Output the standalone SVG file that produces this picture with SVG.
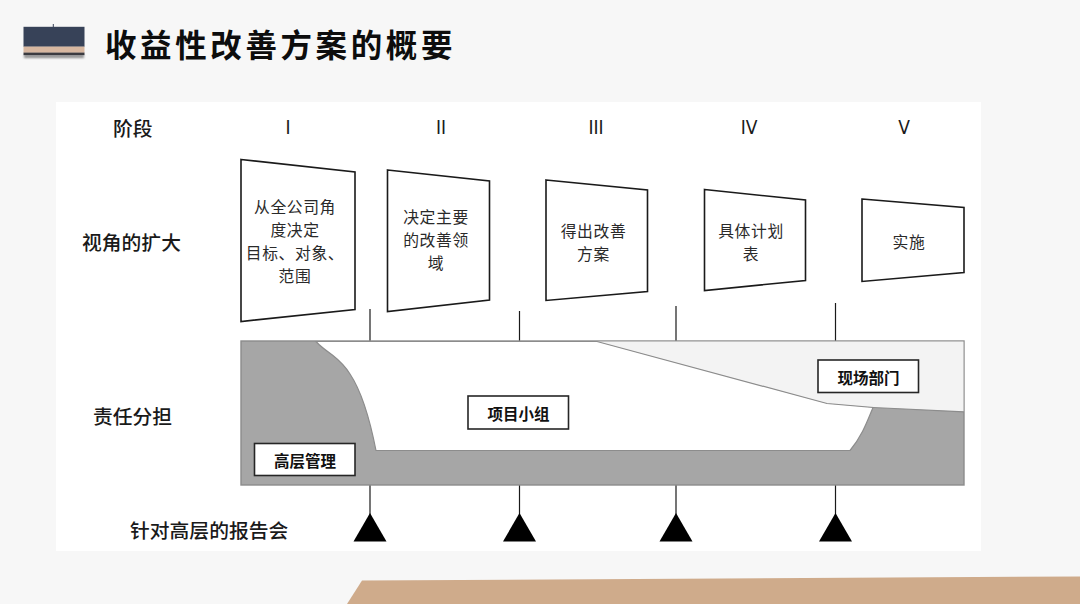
<svg xmlns="http://www.w3.org/2000/svg" width="1080" height="604" viewBox="0 0 1080 604">
<defs>
<style>
.cn{font-family:"Noto Sans CJK SC","Noto Sans",sans-serif;fill:#1a1a1a;}
.lbl{font-size:19.8px;font-weight:500;text-anchor:start;dominant-baseline:central;}
.rom{font-family:"Liberation Sans Narrow","DejaVu Sans Condensed","Liberation Sans",sans-serif;font-size:19px;fill:#1a1a1a;text-anchor:middle;dominant-baseline:central;}
.box{fill:#ffffff;stroke:#1a1a1a;stroke-width:1.6;}
.bt{font-size:15.8px;letter-spacing:0.6px;fill:#2a2a2a;text-anchor:middle;dominant-baseline:central;}
.tag{fill:#ffffff;stroke:#262626;stroke-width:1.6;}
.tt{font-size:15.5px;font-weight:700;fill:#111;text-anchor:middle;dominant-baseline:central;}
.tick{stroke:#1a1a1a;stroke-width:1.2;}
.tri{fill:#000;}
</style>
<filter id="sh" x="-10%" y="-10%" width="120%" height="160%">
<feGaussianBlur stdDeviation="1.2"/>
</filter>
</defs>
<rect x="0" y="0" width="1080" height="604" fill="#f7f7f7"/>
<polygon points="362,580.5 1080,576.5 1080,604 347,604" fill="#cfab8b"/>
<rect x="56" y="102" width="925" height="449" fill="#ffffff"/>

<g id="title">
<rect x="24" y="55" width="60" height="3" fill="#8a8a8a" filter="url(#sh)"/>
<rect x="23.5" y="26.8" width="61" height="20" fill="#374258"/>
<rect x="23.5" y="46.6" width="61" height="6.2" fill="#d7b7a0"/>
<rect x="23.5" y="52.6" width="61" height="2.6" fill="#3b3b40"/>
<line x1="53.3" y1="24" x2="53.3" y2="27" stroke="#374258" stroke-width="1"/>
<text x="105" y="43" class="cn" style="font-size:31.5px;font-weight:700;letter-spacing:3.6px;dominant-baseline:central;fill:#0d0d0d">收益性改善方案的概要</text>
</g>

<g id="row-labels">
<text x="113" y="127" class="cn lbl">阶段</text>
<text x="82" y="241" class="cn lbl">视角的扩大</text>
<text x="93" y="415" class="cn lbl">责任分担</text>
<text x="130" y="529" class="cn lbl">针对高层的报告会</text>
</g>

<g id="stage-numbers">
<text x="288" y="127" class="rom">I</text>
<text x="441" y="127" class="rom">II</text>
<text x="596" y="127" class="rom">III</text>
<text x="749" y="127" class="rom">IV</text>
<text x="904" y="127" class="rom">V</text>
</g>

<g id="connectors">
<line class="tick" x1="370" y1="309" x2="370" y2="341"/>
<line class="tick" x1="519.5" y1="311" x2="519.5" y2="341"/>
<line class="tick" x1="676" y1="306" x2="676" y2="341"/>
<line class="tick" x1="835.5" y1="303" x2="835.5" y2="341"/>
<line class="tick" x1="370" y1="485" x2="370" y2="515"/>
<line class="tick" x1="519.5" y1="485" x2="519.5" y2="515"/>
<line class="tick" x1="676" y1="485" x2="676" y2="515"/>
<line class="tick" x1="835.5" y1="485" x2="835.5" y2="515"/>
</g>

<g id="box-1">
<polygon class="box" points="241,159.5 355,172 355,309.5 241,321.5"/>
<text class="cn bt" x="295" y="206">从全公司角</text>
<text class="cn bt" x="295" y="229">度决定</text>
<text class="cn bt" x="295" y="252">目标、对象、</text>
<text class="cn bt" x="295" y="275">范围</text>
</g>
<g id="box-2">
<polygon class="box" points="387.5,170 489.5,181 489.5,300 387.5,311.5"/>
<text class="cn bt" x="436" y="216.5">决定主要</text>
<text class="cn bt" x="436" y="239.5">的改善领</text>
<text class="cn bt" x="436" y="262.5">域</text>
</g>
<g id="box-3">
<polygon class="box" points="546,180 647.5,190 647.5,291.5 546,300.5"/>
<text class="cn bt" x="593.5" y="230">得出改善</text>
<text class="cn bt" x="593.5" y="253">方案</text>
</g>
<g id="box-4">
<polygon class="box" points="704.5,189.5 805.5,200 805.5,280.5 704.5,290.5"/>
<text class="cn bt" x="751" y="230.5">具体计划</text>
<text class="cn bt" x="751" y="253.5">表</text>
</g>
<g id="box-5">
<polygon class="box" points="862,199 964,207.5 964,272.5 862,281.5"/>
<text class="cn bt" x="909" y="241">实施</text>
</g>

<g id="responsibility-band">
<rect x="241" y="341" width="723" height="144" fill="#a6a6a6" stroke="#8c8c8c" stroke-width="1.4"/>
<polygon points="597,341.5 827,403.5 873,407.5 963.5,411.8 963.5,341.5" fill="#f3f3f3"/>
<path d="M316,341.5 L597,341.5 L827,403.5 L873,407.5 C867,422 862,436 850,450.5 L376,450.5 C370,420 362,392 350,374 C343,363 336,358 331,354 C324,349 320,346 316,341.5 Z" fill="#ffffff" stroke="#8c8c8c" stroke-width="1.2"/>
<path d="M873,407.5 L964,411.8" fill="none" stroke="#8c8c8c" stroke-width="1.2"/>
</g>

<g id="tag-senior">
<rect class="tag" x="254.5" y="443.5" width="100.5" height="32"/>
<text class="cn tt" x="305" y="460">高层管理</text>
</g>
<g id="tag-project">
<rect class="tag" x="468" y="396" width="100.5" height="33"/>
<text class="cn tt" x="518.5" y="413">项目小组</text>
</g>
<g id="tag-site">
<rect class="tag" x="818" y="360" width="100.5" height="32.5"/>
<text class="cn tt" x="868.5" y="377">现场部门</text>
</g>

<g id="reports">
<polygon class="tri" points="370,513 353.5,541.5 386.5,541.5"/>
<polygon class="tri" points="519.5,513 503,541.5 536,541.5"/>
<polygon class="tri" points="676,513 659.5,541.5 692.5,541.5"/>
<polygon class="tri" points="835.5,513 819,541.5 852,541.5"/>
</g>
</svg>
